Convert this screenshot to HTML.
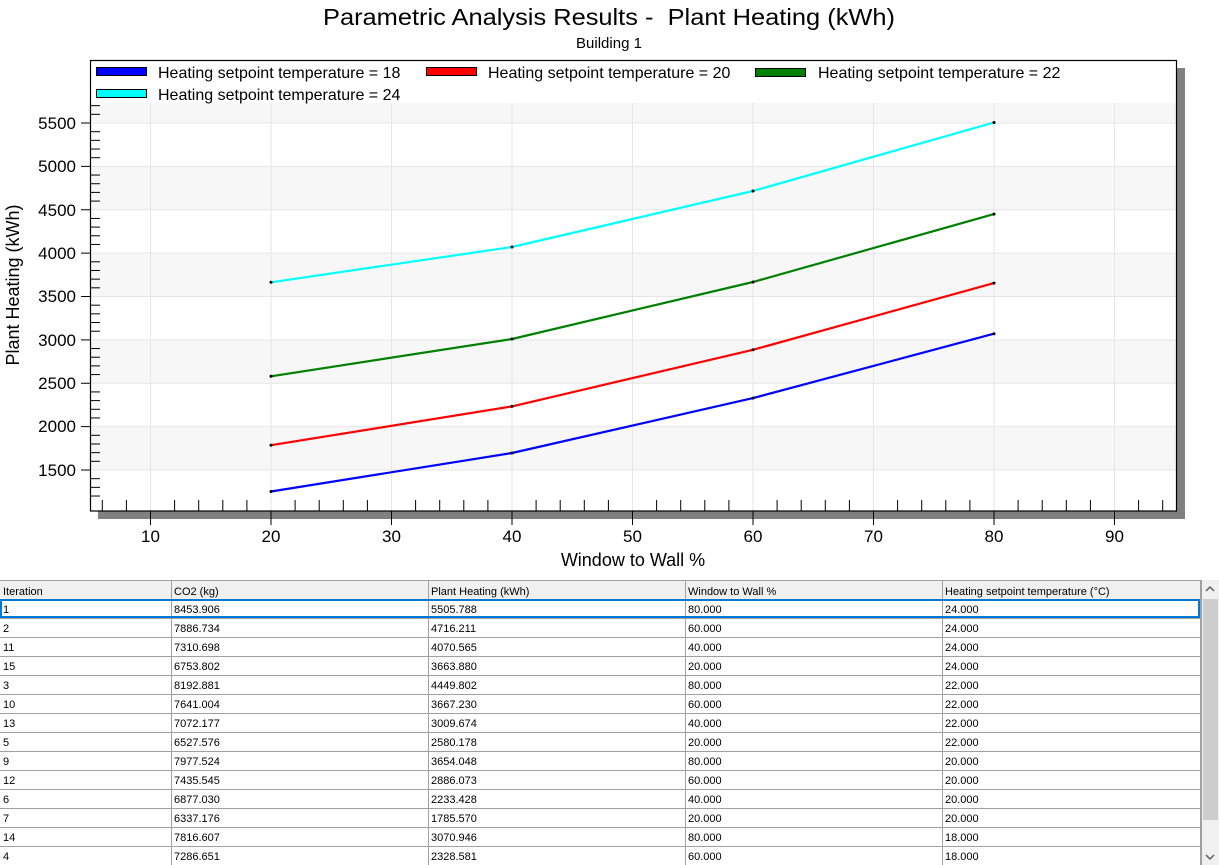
<!DOCTYPE html>
<html><head><meta charset="utf-8"><style>
html,body{margin:0;padding:0;background:#fff;width:1219px;height:865px;overflow:hidden}
svg{display:block}
</style></head><body>
<svg width="1219" height="865" xmlns="http://www.w3.org/2000/svg" font-family="Liberation Sans, Arial, sans-serif">
<rect width="1219" height="865" fill="#fff"/>
<text x="609" y="25" font-size="23" text-anchor="middle" textLength="572" lengthAdjust="spacingAndGlyphs">Parametric Analysis Results -&#160; Plant Heating (kWh)</text>
<text x="609" y="48" font-size="15" text-anchor="middle">Building 1</text>
<rect x="1177" y="68" width="8" height="451" fill="#808080"/>
<rect x="98" y="511" width="1087" height="8" fill="#808080"/>
<rect x="90" y="60" width="1087" height="451" fill="#fff"/>
<g fill="#f7f7f7">
<rect x="91" y="103" width="1085" height="20"/>
<rect x="91" y="166" width="1085" height="43.4"/>
<rect x="91" y="253" width="1085" height="43.4"/>
<rect x="91" y="340" width="1085" height="43.4"/>
<rect x="91" y="426.6" width="1085" height="43.4"/>
</g>
<g stroke="#e6e6e6" stroke-width="1">
<line x1="91" x2="1176" y1="123" y2="123"/><line x1="91" x2="1176" y1="166.4" y2="166.4"/>
<line x1="91" x2="1176" y1="209.8" y2="209.8"/><line x1="91" x2="1176" y1="253.1" y2="253.1"/>
<line x1="91" x2="1176" y1="296.5" y2="296.5"/><line x1="91" x2="1176" y1="339.9" y2="339.9"/>
<line x1="91" x2="1176" y1="383.3" y2="383.3"/><line x1="91" x2="1176" y1="426.6" y2="426.6"/>
<line x1="91" x2="1176" y1="470" y2="470"/>
<line x1="150.5" x2="150.5" y1="103" y2="511"/><line x1="271" x2="271" y1="103" y2="511"/>
<line x1="391.5" x2="391.5" y1="103" y2="511"/><line x1="512" x2="512" y1="103" y2="511"/>
<line x1="632.5" x2="632.5" y1="103" y2="511"/><line x1="753" x2="753" y1="103" y2="511"/>
<line x1="873.5" x2="873.5" y1="103" y2="511"/><line x1="994" x2="994" y1="103" y2="511"/>
<line x1="1114.5" x2="1114.5" y1="103" y2="511"/>
</g>
<rect x="90.5" y="60.5" width="1086" height="450.5" fill="none" stroke="#000" stroke-width="1.2"/>
<g stroke="#000" stroke-width="1">
<rect x="96.5" y="67.5" width="50" height="8" fill="#0000ff"/>
<rect x="426.5" y="67.5" width="50" height="8" fill="#ff0000"/>
<rect x="755.5" y="68.5" width="50" height="8" fill="#008000"/>
<rect x="96.5" y="89.5" width="50" height="8" fill="#00ffff"/>
</g>
<g font-size="16" fill="#000">
<text x="158" y="78">Heating setpoint temperature = 18</text>
<text x="488" y="78">Heating setpoint temperature = 20</text>
<text x="818" y="78">Heating setpoint temperature = 22</text>
<text x="158" y="100">Heating setpoint temperature = 24</text>
</g>
<g font-size="17" text-anchor="end" fill="#000">
<text x="76" y="129">5500</text><text x="76" y="172">5000</text><text x="76" y="216">4500</text>
<text x="76" y="259">4000</text><text x="76" y="302">3500</text><text x="76" y="346">3000</text>
<text x="76" y="389">2500</text><text x="76" y="432">2000</text><text x="76" y="476">1500</text>
</g>
<g font-size="17" text-anchor="middle" fill="#000">
<text x="150.5" y="542">10</text><text x="271" y="542">20</text><text x="391.5" y="542">30</text>
<text x="512" y="542">40</text><text x="632.5" y="542">50</text><text x="753" y="542">60</text>
<text x="873.5" y="542">70</text><text x="994" y="542">80</text><text x="1114.5" y="542">90</text>
</g>
<text x="633" y="566" font-size="18" text-anchor="middle">Window to Wall %</text>
<text transform="translate(19,285) rotate(-90)" font-size="18" text-anchor="middle">Plant Heating (kWh)</text>
<g fill="none" stroke-width="2.2" stroke-linejoin="round">
<polyline stroke="#00ffff" points="271,282.3 512,247 753,191 994,122.5"/>
<polyline stroke="#008000" points="271,376.3 512,339 753,282 994,214.1"/>
<polyline stroke="#ff0000" points="271,445.2 512,406.4 753,349.8 994,283.1"/>
<polyline stroke="#0000ff" points="271,491.5 512,453 753,398.1 994,333.7"/>
</g>
<g fill="#000">
<circle cx="271" cy="282.3" r="1.5"/><circle cx="512" cy="247" r="1.5"/><circle cx="753" cy="191" r="1.5"/><circle cx="994" cy="122.5" r="1.5"/>
<circle cx="271" cy="376.3" r="1.5"/><circle cx="512" cy="339" r="1.5"/><circle cx="753" cy="282" r="1.5"/><circle cx="994" cy="214.1" r="1.5"/>
<circle cx="271" cy="445.2" r="1.5"/><circle cx="512" cy="406.4" r="1.5"/><circle cx="753" cy="349.8" r="1.5"/><circle cx="994" cy="283.1" r="1.5"/>
<circle cx="271" cy="491.5" r="1.5"/><circle cx="512" cy="453" r="1.5"/><circle cx="753" cy="398.1" r="1.5"/><circle cx="994" cy="333.7" r="1.5"/>
</g>
<g id="ticks" stroke="#000" stroke-width="1"></g>
<rect x="0" y="580" width="1201" height="19" fill="#f0f0f0"/>
<line x1="0" x2="1201" y1="580.5" y2="580.5" stroke="#a0a0a0"/>
<g id="tbl"></g>
<rect x="1201" y="580" width="18" height="285" fill="#f0f0f0"/>
<line x1="1201.5" x2="1201.5" y1="580" y2="865" stroke="#a0a0a0"/>
<rect x="1203" y="599" width="15" height="221" fill="#cdcdcd"/>
<polyline points="1206,591 1210,587 1214,591" fill="none" stroke="#606060" stroke-width="1.5"/>
<polyline points="1206,855 1210,859 1214,855" fill="none" stroke="#606060" stroke-width="1.5"/>
</svg>
<script>
var NS="http://www.w3.org/2000/svg";
function el(p,t,a,txt){var e=document.createElementNS(NS,t);for(var k in a)e.setAttribute(k,a[k]);if(txt!=null)e.textContent=txt;p.appendChild(e);return e;}
var tk=document.getElementById("ticks");
for(var v=1200;v<=5700;v+=100){var y=470-(v-1500)*0.08675;if(y<62||y>509)continue;
 if(v%500==0){el(tk,"line",{x1:81,x2:91,y1:y,y2:y});}else{el(tk,"line",{x1:90,x2:100,y1:y,y2:y});}}
for(var xv=6;xv<=94;xv+=2){var x=150.5+(xv-10)*12.05;if(x<92||x>1175)continue;
 if(xv%10==0){el(tk,"line",{x1:x,x2:x,y1:511,y2:525});}else{el(tk,"line",{x1:x,x2:x,y1:500,y2:511});}}
var t=document.getElementById("tbl");
var cols=[0,171,428,685,942,1200];
var hdr=["Iteration","CO2 (kg)","Plant Heating (kWh)","Window to Wall %","Heating setpoint temperature (°C)"];
var rows=[["1","8453.906","5505.788","80.000","24.000"],["2","7886.734","4716.211","60.000","24.000"],["11","7310.698","4070.565","40.000","24.000"],["15","6753.802","3663.880","20.000","24.000"],["3","8192.881","4449.802","80.000","22.000"],["10","7641.004","3667.230","60.000","22.000"],["13","7072.177","3009.674","40.000","22.000"],["5","6527.576","2580.178","20.000","22.000"],["9","7977.524","3654.048","80.000","20.000"],["12","7435.545","2886.073","60.000","20.000"],["6","6877.030","2233.428","40.000","20.000"],["7","6337.176","1785.570","20.000","20.000"],["14","7816.607","3070.946","80.000","18.000"],["4","7286.651","2328.581","60.000","18.000"]];
for(var c=0;c<5;c++){el(t,"text",{x:cols[c]+3,y:595,"font-size":11,fill:"#000"},hdr[c]);}
for(var c=1;c<6;c++){el(t,"line",{x1:cols[c]+0.5,x2:cols[c]+0.5,y1:580,y2:865,stroke:"#a0a0a0"});}
for(var r=0;r<=14;r++){var y=599+r*19;el(t,"line",{x1:0,x2:1201,y1:y+0.5,y2:y+0.5,stroke:"#a0a0a0"});}
for(var r=0;r<rows.length;r++){for(var c=0;c<5;c++){el(t,"text",{x:cols[c]+3,y:599+r*19+14,"font-size":11,fill:"#000"},rows[r][c]);}}
el(t,"rect",{x:1,y:600,width:1198,height:17,fill:"none",stroke:"#0078d7","stroke-width":2});
</script>
</body></html>
